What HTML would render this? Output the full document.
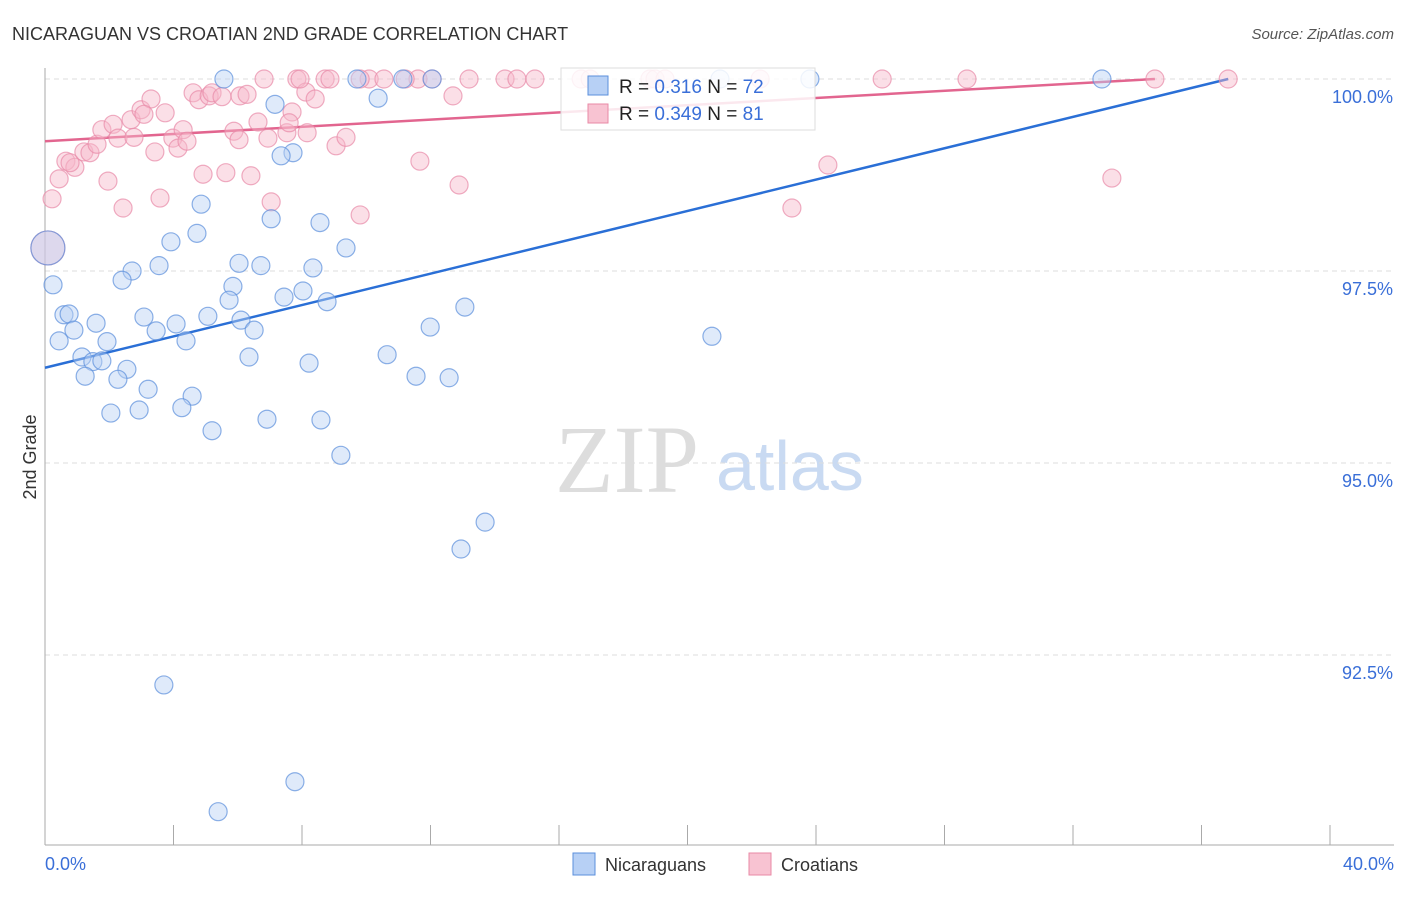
<!DOCTYPE html>
<html><head><meta charset="utf-8"><style>
body{margin:0;background:#fff;font-family:"Liberation Sans",sans-serif;}
</style></head><body>
<svg width="1406" height="892" xmlns="http://www.w3.org/2000/svg" id="chart">
<text x="12" y="40" font-size="18" fill="#333">NICARAGUAN VS CROATIAN 2ND GRADE CORRELATION CHART</text>
<text x="1394" y="39" font-size="15" fill="#555" text-anchor="end" font-style="italic">Source: ZipAtlas.com</text>
<text x="36" y="457" font-size="18" fill="#333" text-anchor="middle" transform="rotate(-90 36 457)">2nd Grade</text>
<g>
<text x="555" y="492" font-size="96" fill="#ddd" font-family="Liberation Serif,serif">ZIP</text>
<text x="716" y="490" font-size="70" fill="#c9daf2">atlas</text>
</g>
<g id="grid"></g><g id="axes"></g><g id="trend"></g><g id="pts"></g>
<g>
<rect x="561" y="68" width="254" height="62" fill="#fff" fill-opacity="0.85" stroke="#ddd"/>
<rect x="588" y="76" width="20" height="19" fill="#b7d0f5" stroke="#5b8fdc"/>
<rect x="588" y="104" width="20" height="19" fill="#f8c3d2" stroke="#e889a6"/>
<text x="619" y="93" font-size="19" fill="#222">R = <tspan fill="#3a6fd8"> 0.316</tspan>   N = <tspan fill="#3a6fd8">72</tspan></text>
<text x="619" y="120" font-size="19" fill="#222">R = <tspan fill="#3a6fd8">0.349</tspan>   N = <tspan fill="#3a6fd8"> 81</tspan></text>
</g>
<g>
<rect x="573" y="853" width="22" height="22" fill="#b7d0f5" stroke="#5b8fdc"/>
<text x="605" y="871" font-size="18" fill="#333">Nicaraguans</text>
<rect x="749" y="853" width="22" height="22" fill="#f8c3d2" stroke="#e889a6"/>
<text x="781" y="871" font-size="18" fill="#333">Croatians</text>
</g>
</svg>
<script>
const yTicks=[100,97.5,95,92.5];
const yTickLabels=["100.0%","97.5%","95.0%","92.5%"];
const xTickLabels=["0.0%","40.0%"];
const blueX=[5.57,9.71,11.14,12.05,21.01,23.81,32.90,7.16,10.37,7.72,7.35,4.86,7.04,8.56,4.73,3.92,9.37,3.55,6.04,6.72,8.34,2.71,2.40,0.25,5.85,8.03,7.44,5.73,8.78,13.07,0.59,0.75,3.08,5.07,1.59,6.10,4.08,0.90,3.46,6.51,11.99,0.44,4.39,1.93,20.76,1.15,6.35,10.65,1.49,1.77,8.22,2.55,1.25,2.27,11.55,12.58,3.21,4.58,4.26,2.93,2.05,6.91,8.59,5.20,9.21,13.70,12.95,3.70,7.78,5.39,0.09];
const blueY=[100,100,100,100,100,100,100,99.67,99.75,99.04,99.00,98.37,98.18,98.13,97.99,97.88,97.80,97.57,97.60,97.57,97.54,97.50,97.38,97.32,97.30,97.24,97.16,97.12,97.10,97.03,96.93,96.94,96.90,96.91,96.82,96.86,96.81,96.73,96.72,96.73,96.77,96.59,96.59,96.58,96.65,96.38,96.38,96.41,96.32,96.33,96.30,96.22,96.13,96.09,96.13,96.11,95.96,95.87,95.72,95.69,95.65,95.57,95.56,95.42,95.10,94.23,93.88,92.11,90.85,90.46,97.80];
const pinkX=[0.22,0.44,0.65,0.93,0.78,1.21,1.40,1.62,1.77,2.12,1.96,2.43,2.27,2.68,2.99,3.30,3.08,2.77,3.74,3.58,3.42,3.98,4.14,4.30,4.42,4.61,4.79,5.11,5.20,5.51,6.07,6.29,4.92,5.63,5.88,6.04,6.41,6.63,6.82,7.04,6.94,7.53,7.84,8.12,8.41,7.69,7.60,8.16,8.72,8.87,9.06,9.37,9.81,10.09,10.55,11.61,11.67,12.70,12.89,13.20,14.32,14.69,15.25,16.69,16.97,18.83,18.99,19.30,22.26,23.25,24.37,26.06,28.70,33.21,34.55,36.83,0.09,9.81,11.21,12.05,7.94];
const pinkY=[98.44,98.70,98.93,98.85,98.91,99.05,99.04,99.15,99.34,99.41,98.67,98.32,99.23,99.47,99.60,99.74,99.54,99.24,99.56,98.45,99.05,99.23,99.10,99.34,99.19,99.82,99.73,99.78,99.82,99.77,99.78,99.80,98.76,98.78,99.32,99.21,98.74,99.44,100,98.40,99.23,99.30,100,99.83,99.74,99.57,99.43,99.30,100,100,99.13,99.24,98.23,100,100,100,98.93,99.78,98.62,100,100,100,100,100,100,100,100,100,100,98.32,98.88,100,100,98.71,100,100,97.80,100,100,100,100];
const blueTrendX=[0,36.83], blueTrendY=[96.24,100];
const pinkTrendX=[0,34.55], pinkTrendY=[99.19,100];
const NS="http://www.w3.org/2000/svg";
const sx=v=>45+v/40*1285;
const sy=v=>79+(100-v)/2.5*192;
function mk(parent,tag,attrs){const e=document.createElementNS(NS,tag);for(const k in attrs)e.setAttribute(k,attrs[k]);document.getElementById(parent).appendChild(e);return e;}
yTicks.forEach((t,i)=>{
 const l=mk('grid','line',{x1:45,x2:1394,y1:sy(t),y2:sy(t),stroke:'#ddd','stroke-dasharray':'5,4'});
 
 
 const tx=mk('grid','text',{x:1393,y:sy(t)+24,'font-size':18,fill:'#3a6fd8','text-anchor':'end'});
 tx.textContent=yTickLabels[i];
 
 
});
const ya=mk('axes','line',{x1:45,x2:45,y1:68,y2:845,stroke:'#aaa'});


const xa=mk('axes','line',{x1:45,x2:1394,y1:845,y2:845,stroke:'#aaa'});


for(let i=1;i<=10;i++){const tk=mk('axes','line',{x1:sx(i*4),x2:sx(i*4),y1:825,y2:845,stroke:'#aaa'});
 
 }
[[0,'start',45],[40,'end',1394]].forEach((d,i)=>{const t=mk('axes','text',{x:d[2],y:870,'font-size':18,fill:'#3a6fd8','text-anchor':d[1]});t.textContent=xTickLabels[i];
 
 });
function dots(X,Y,fill,stroke,name){X.forEach((x,i)=>{const big=(x<0.2&&Math.abs(Y[i]-97.8)<0.05);
 const c=mk('pts','circle',{cx:sx(x),cy:sy(Y[i]),r:big?17:9,fill:fill,'fill-opacity':0.45,stroke:stroke,'stroke-opacity':0.7,'stroke-width':1.2});
 
 });}
dots(pinkX,pinkY,'#f7b7ca','#e88aa8','croatian-point');
dots(blueX,blueY,'#b7d0f5','#5b8fdc','nicaraguan-point');
const bl=mk('trend','line',{x1:sx(blueTrendX[0]),y1:sy(blueTrendY[0]),x2:sx(blueTrendX[1]),y2:sy(blueTrendY[1]),stroke:'#2a6fd6','stroke-width':2.5});


const pl=mk('trend','line',{x1:sx(pinkTrendX[0]),y1:sy(pinkTrendY[0]),x2:sx(pinkTrendX[1]),y2:sy(pinkTrendY[1]),stroke:'#e2658f','stroke-width':2.5});


</script>
</body></html>
